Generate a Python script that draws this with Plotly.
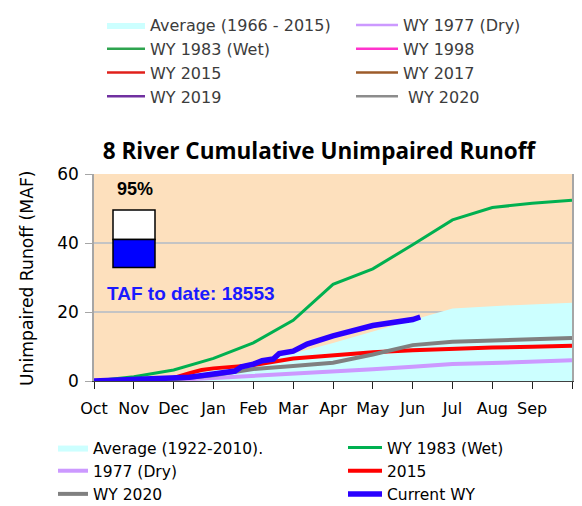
import plotly.graph_objects as go

# ---------------- data ----------------
month_labels = ["Oct", "Nov", "Dec", "Jan", "Feb", "Mar", "Apr", "May", "Jun", "Jul", "Aug", "Sep", ""]
month_ticks = [0, 1, 2, 3, 4, 5, 6, 7, 8, 9, 10, 11, 12]
y_ticks = [0, 20, 40, 60]

# cumulative runoff (MAF) at month boundaries (0 = 1 Oct, 12 = 30 Sep)
avg_x = [0, 1, 2, 3, 4, 5, 6, 7, 8, 9, 10, 11, 12]
avg_y = [0, 0.6, 1.6, 3.2, 5.4, 8.0, 11.0, 14.3, 17.8, 21.0, 21.7, 22.2, 22.7]

wy1977_x = [0, 1, 2, 3, 4, 5, 6, 7, 8, 9, 10, 11, 12]
wy1977_y = [0, 0.1, 0.3, 0.87, 1.44, 2.0, 2.6, 3.4, 4.1, 4.9, 5.2, 5.5, 6.0]

wy2020_x = [0, 1, 2, 3, 4, 5, 6, 7, 8, 9, 10, 11, 12]
wy2020_y = [0, 0.2, 0.48, 1.64, 3.46, 4.33, 5.3, 7.7, 10.4, 11.35, 11.7, 12.0, 12.5]

wy2015_x = [0, 1, 2, 2.4, 2.7, 3, 4, 5, 6, 7, 8, 9, 10, 11, 12]
wy2015_y = [0, 0.48, 0.9, 2.3, 3.2, 3.66, 4.6, 6.5, 7.5, 8.3, 8.9, 9.4, 9.7, 9.9, 10.2]

wy1983_x = [0, 1, 2, 3, 4, 5, 6, 7, 8, 9, 10, 11, 12]
wy1983_y = [0, 1.25, 3.17, 6.54, 11.06, 17.6, 28.0, 32.5, 39.5, 46.7, 50.3, 51.5, 52.4]

current_x = [0, 1, 2, 2.4, 3, 3.54, 3.7, 4, 4.22, 4.5, 4.65, 5, 5.35, 6, 7, 8, 8.19]
current_y = [0, 0.29, 0.87, 1.06, 2.02, 2.89, 4.14, 4.9, 5.87, 6.35, 7.98, 8.66, 10.68, 13.08, 16.07, 17.8, 18.55]

pct_text = "95%"
taf_to_date = 18553

# top (image) legend entries
top_left_names = ["Average (1966 - 2015)", "WY 1983 (Wet)", "WY 2015", "WY 2019"]
top_left_colors = ["#CCFFFF", "#2EA44F", "#E0201B", "#7030A0"]
top_right_names = ["WY 1977 (Dry)", "WY 1998", "WY 2017", " WY 2020"]
top_right_colors = ["#CC99FF", "#FF33CC", "#9C5B2A", "#8C8C8C"]

# ---------------- geometry ----------------
# the page body adds an 8px margin, so the figure is drawn 8px smaller and
# every reference pixel position is shifted by that offset
OFF = 8
W, H = 582 - OFF, 506 - OFF
L, R, T, B = 94 - OFF, 10, 174 - OFF, 125


def cx(px):
    return (px - OFF) / W


def cy(py):
    return 1 - (py - OFF) / H


def px_x(px):
    return (px - OFF - L) / (W - L - R)


def px_y(py):
    return (H - B - (py - OFF)) / (H - T - B)


fig = go.Figure()

# top legends (dummy entries)
for i, (nm, col) in enumerate(zip(top_left_names, top_left_colors)):
    if i == 0:
        fig.add_trace(go.Scatter(x=[None], y=[None], name=nm, mode="lines", fill="tozeroy",
                                 fillcolor=col, line=dict(width=0, color=col), legend="legend",
                                 hoverinfo="skip"))
    else:
        fig.add_trace(go.Scatter(x=[None], y=[None], name=nm, mode="lines",
                                 line=dict(width=2.5, color=col), legend="legend", hoverinfo="skip"))
for nm, col in zip(top_right_names, top_right_colors):
    fig.add_trace(go.Scatter(x=[None], y=[None], name=nm, mode="lines",
                             line=dict(width=2.5, color=col), legend="legend2", hoverinfo="skip"))

# plotted series
fig.add_trace(go.Scatter(x=avg_x, y=avg_y, name="Average (1922-2010).", mode="lines",
                         fill="tozeroy", fillcolor="#CCFFFF", line=dict(width=0, color="#CCFFFF"),
                         legend="legend3", legendrank=1))
fig.add_trace(go.Scatter(x=wy1977_x, y=wy1977_y, name="1977 (Dry)", mode="lines",
                         line=dict(width=4, color="#CC99FF"), legend="legend3", legendrank=2))
fig.add_trace(go.Scatter(x=wy2015_x, y=wy2015_y, name="2015", mode="lines",
                         line=dict(width=4, color="#FF0000"), legend="legend4", legendrank=2))
fig.add_trace(go.Scatter(x=wy2020_x, y=wy2020_y, name="WY 2020", mode="lines",
                         line=dict(width=4, color="#808080"), legend="legend3", legendrank=3))
fig.add_trace(go.Scatter(x=wy1983_x, y=wy1983_y, name="WY 1983 (Wet)", mode="lines",
                         line=dict(width=3, color="#00B050"), legend="legend4", legendrank=1))
fig.add_trace(go.Scatter(x=current_x, y=current_y, name="Current WY", mode="lines",
                         line=dict(width=5.5, color="#2A00FF"),
                         legend="legend4", legendrank=3))

top_font = dict(family="DejaVu Sans", size=16, color="#3C3C3C")
bot_font = dict(family="DejaVu Sans", size=15.5, color="#000000")

legend_common = dict(xref="container", yref="container", xanchor="left", yanchor="top",
                     bgcolor="rgba(0,0,0,0)", borderwidth=0, orientation="v",
                     traceorder="normal")

fig.update_layout(
    width=W, height=H,
    margin=dict(l=L, r=R, t=T, b=B, autoexpand=False),
    paper_bgcolor="#FFFFFF",
    plot_bgcolor="#FDE0BD",
    showlegend=True,
    legend=dict(x=cx(102), y=cy(5), font=top_font, itemwidth=38, **legend_common),
    legend2=dict(x=cx(351), y=cy(5), font=top_font, itemwidth=42, **legend_common),
    legend3=dict(x=cx(53), y=cy(431), font=bot_font, itemwidth=30, **legend_common),
    legend4=dict(x=cx(343), y=cy(431), font=bot_font, itemwidth=34, **legend_common),
    title=dict(text="<b>8 River Cumulative Unimpaired Runoff</b>", x=cx(319), y=cy(151),
               xref="container", yref="container", xanchor="center", yanchor="middle",
               font=dict(family="Open Sans", size=22.5, color="#000000")),
    xaxis=dict(range=[0, 12], tickvals=month_ticks, ticktext=month_labels,
               showgrid=False, zeroline=False, showline=True, linecolor="#404040", linewidth=1,
               ticks="outside", ticklen=7, tickcolor="#202020", tickwidth=1.2,
               ticklabelstandoff=6,
               tickfont=dict(family="DejaVu Sans", size=16, color="#000000"), fixedrange=True),
    yaxis=dict(range=[0, 60], tickvals=y_ticks, showgrid=True, gridcolor="#C4C4C4", gridwidth=1.5,
               zeroline=False, showline=True, linecolor="#A6A6A6", linewidth=1.5, mirror=True,
               ticks="outside", ticklen=7, tickcolor="#A6A6A6", ticklabelstandoff=3,
               tickfont=dict(family="DejaVu Sans", size=17, color="#000000"),
               fixedrange=True),
)

# y-axis title
fig.add_annotation(text="Unimpaired Runoff (MAF)", xref="paper", yref="paper",
                   x=px_x(27), y=px_y(278), xanchor="center", yanchor="middle",
                   textangle=-90, showarrow=False,
                   font=dict(family="DejaVu Sans", size=17.2, color="#000000"))

# percent indicator box
fig.add_shape(type="rect", xref="paper", yref="paper",
              x0=px_x(113), x1=px_x(155), y0=px_y(239.5), y1=px_y(210),
              fillcolor="#FFFFFF", line=dict(color="#000000", width=1.5), layer="above")
fig.add_shape(type="rect", xref="paper", yref="paper",
              x0=px_x(113), x1=px_x(155), y0=px_y(267.5), y1=px_y(239.5),
              fillcolor="#0000FF", line=dict(color="#000000", width=1.5), layer="above")
fig.add_annotation(text="<b>" + pct_text + "</b>", xref="paper", yref="paper",
                   x=px_x(134.5), y=px_y(189), xanchor="center", yanchor="middle", showarrow=False,
                   font=dict(family="Liberation Sans", size=18, color="#000000"))
fig.add_annotation(text="<b>TAF to date: " + str(taf_to_date) + "</b>", xref="paper", yref="paper",
                   x=px_x(105), y=px_y(293), xanchor="left", yanchor="middle", showarrow=False,
                   font=dict(family="Liberation Sans", size=19, color="#1A1AFF"))

fig.write_html("out.html")
